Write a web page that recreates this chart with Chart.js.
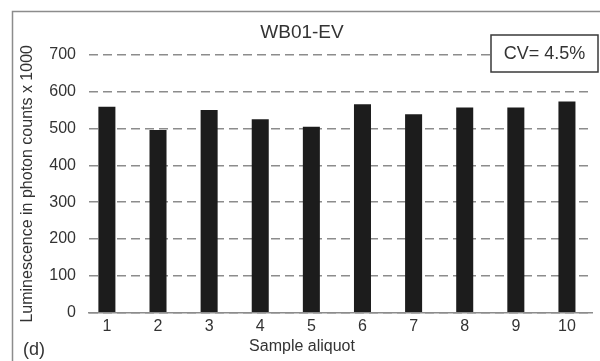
<!DOCTYPE html>
<html>
<head>
<meta charset="utf-8">
<script src="https://cdn.jsdelivr.net/npm/chart.js@4/dist/chart.umd.min.js"></script>
<style>
  html, body { margin: 0; padding: 0; background: #fff; }
  #wrap { width: 600px; height: 361px; }
</style>
</head>
<body>
<div id="wrap"><canvas id="chart"></canvas></div>
<script>
// sample aliquots (x) and luminescence in photon counts x 1000
const aliquots = [1, 2, 3, 4, 5, 6, 7, 8, 9, 10];
const aliquotLabels = ["1", "2", "3", "4", "5", "6", "7", "8", "9", "10"];
const luminescence = [559, 496, 550, 525, 505, 566, 539, 557, 557, 573];
const yTicks = [0, 100, 200, 300, 400, 500, 600, 700];

const FONT = "'Liberation Sans', Arial, sans-serif";
const TEXT = "#333";

/*********************** extra bits: frame, CV box, panel letter ***********************/
const extras = {
  id: "extras",
  afterDraw(chart) {
    const ctx = chart.ctx;
    ctx.save();
    // outer frame of the figure
    ctx.strokeStyle = "#8c8c8c";
    ctx.lineWidth = 1.5;
    ctx.strokeRect(12.5, 11.5, 620, 400);

    // CV box
    ctx.fillStyle = "#fff";
    ctx.fillRect(491, 35, 107, 37);
    ctx.strokeStyle = "#3a3a3a";
    ctx.lineWidth = 1.5;
    ctx.strokeRect(491, 35, 107, 37);
    ctx.fillStyle = TEXT;
    ctx.font = "18px " + FONT;
    ctx.textAlign = "center";
    ctx.textBaseline = "middle";
    ctx.fillText("CV= 4.5%", 544.5, 54);

    // panel letter
    ctx.textAlign = "left";
    ctx.fillText("(d)", 23, 350);
    ctx.restore();
  },
};

let ctx = document.getElementById("chart").getContext("2d");
let chart = new Chart(ctx, {
  type: "bar",
  data: {
    datasets: [
      {
        data: aliquots.map((a, i) => ({ x: a, y: luminescence[i] })),
        backgroundColor: "#1c1c1c",
        borderWidth: 0,
        categoryPercentage: 1,
        barPercentage: 0.333,
      },
    ],
  },
  options: {
    responsive: true,
    maintainAspectRatio: false,
    animation: false,
    layout: { padding: { left: 12, right: 8, top: 0, bottom: 0 } },
    plugins: {
      legend: { display: false },
      tooltip: { enabled: false },
      title: {
        display: true,
        text: "WB01-EV",
        color: TEXT,
        font: { family: FONT, size: 19, weight: "normal" },
        padding: { top: 21, bottom: 11 },
      },
      subtitle: {
        display: true,
        position: "bottom",
        text: "Sample aliquot",
        color: TEXT,
        font: { family: FONT, size: 16, weight: "normal" },
        padding: { top: 0, bottom: 5 },
      },
    },
    scales: {
      x: {
        type: "linear",
        min: 0.65,
        max: 10.49,
        offset: false,
        grid: { display: false, offset: false, drawTicks: false },
        border: { display: true, color: "#8c8c8c", width: 1.5 },
        afterBuildTicks: (s) => {
          s.ticks = aliquots.map((v) => ({ value: v }));
        },
        afterFit: (s) => {
          s.height = 24;
        },
        ticks: {
          color: TEXT,
          padding: 4,
          maxRotation: 0,
          font: { family: FONT, size: 16 },
          callback: (v) => aliquotLabels[aliquots.indexOf(v)],
        },
      },
      y: {
        min: 0,
        max: 700,
        afterBuildTicks: (s) => {
          s.ticks = yTicks.map((v) => ({ value: v }));
        },
        afterFit: (s) => {
          s.width = 77;
        },
        grid: { color: "#8c8c8c", lineWidth: 1.5, drawTicks: false },
        border: { display: false, dash: [9, 5] },
        ticks: {
          color: TEXT,
          padding: 13,
          font: { family: FONT, size: 16 },
        },
        title: {
          display: true,
          text: "Luminescence in photon counts x 1000",
          color: TEXT,
          font: { family: FONT, size: 16 },
          padding: { top: 6, bottom: 0 },
        },
      },
    },
  },
  plugins: [extras],
});
</script>
</body>
</html>
